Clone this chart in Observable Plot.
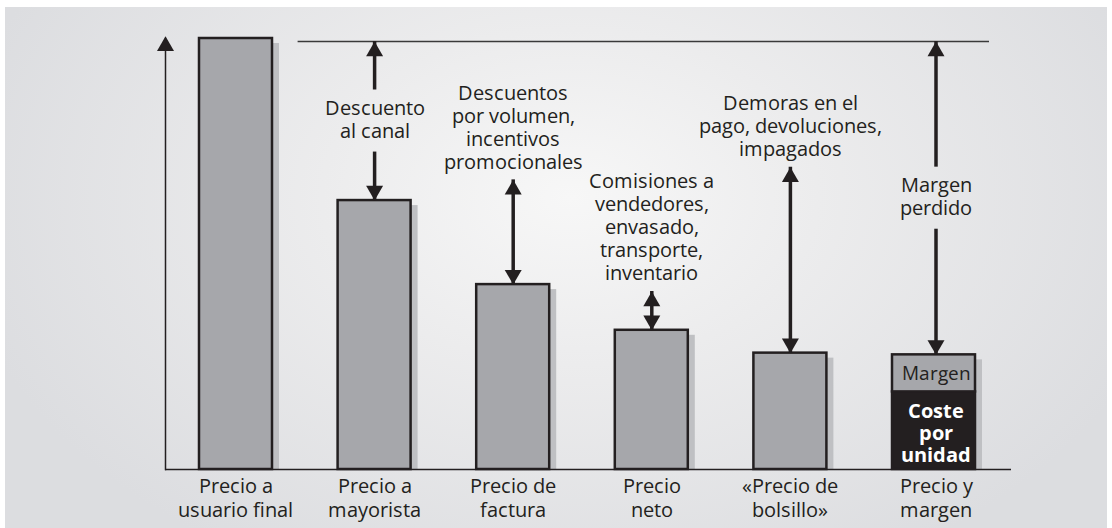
<!DOCTYPE html>
<html><head><meta charset="utf-8">
<script src="https://cdn.jsdelivr.net/npm/d3@7"></script>
<script src="https://cdn.jsdelivr.net/npm/@observablehq/plot@0.6"></script>
<style>
@font-face{font-family:"OpenSansTight";font-weight:400;
  src:local("Open Sans Regular"),local("OpenSans-Regular"),local("Open Sans");
  ascent-override:88%;descent-override:21%;line-gap-override:0%;}
@font-face{font-family:"OpenSansTight";font-weight:700;
  src:local("Open Sans Bold"),local("OpenSans-Bold");
  ascent-override:88%;descent-override:21%;line-gap-override:0%;}
html,body{margin:0;padding:0;background:#fff;}
#wrap{position:relative;width:1112px;height:528px;overflow:hidden;}
#panel{position:absolute;left:5px;top:7px;width:1102px;height:521px;
  background:radial-gradient(ellipse 620px 420px at 565px 190px,#f7f7f7 0%,#ececed 40%,#dcdde0 100%);}
#chart{position:absolute;left:0;top:0;}
</style></head><body>
<div id="wrap"><div id="panel"></div><div id="chart"></div></div>
<script>
// ---- data ----
const categorias = ["Precio a\nusuario final", "Precio a\nmayorista", "Precio de\nfactura", "Precio\nneto", "«Precio de\nbolsillo»", "Precio y\nmargen"];
const precios = [100, 62.4, 42.9, 32.3, 27.0, 26.6];
const costeUnidad = 18.0;
const lineaReferencia = 99.3;
const topeEje = 100.5;
const notas = ["Descuento\nal canal", "Descuentos\npor volumen,\nincentivos\npromocionales", "Comisiones a\nvendedores,\nenvasado,\ntransporte,\ninventario", "Demoras en el\npago, devoluciones,\nimpagados", "Margen\nperdido"];
const notaDesde = [99.3, 67.2, 41.3, 70.1, 99.3];
const notaPartida = [true, false, false, false, true];
const etiquetaMargen = "Margen";
const etiquetaCoste = "Coste\npor\nunidad";

// ---- derived tables ----
const barras = categorias.map((c, i) => ({cat: c, precio: precios[i]}));
const anot = notas.map((t, i) => ({cat: categorias[i + 1], texto: t, desde: notaDesde[i], hasta: precios[i + 1], partida: notaPartida[i]}));
const ultima = categorias[categorias.length - 1];

const INK = "#231f20";
const GRIS = "#a6a7ab";
const SOMBRA = "#bfc0c3";
const FONT = "OpenSansTight, 'Open Sans', sans-serif";
const FS = 20;
const HUECO = 7.2;
const R = 6.3, PUNTA = 9.8;
const DX6 = 7;

function segmentos(a) {
  if (!a.partida) return [{cat: a.cat, y1: a.desde, y2: a.hasta}];
  const m = (a.desde + a.hasta) / 2;
  return [{cat: a.cat, y1: a.desde, y2: m + HUECO}, {cat: a.cat, y1: m - HUECO, y2: a.hasta}];
}

function capaAnotaciones(datos, dx) {
  return [
    Plot.ruleX(datos.flatMap(segmentos), {x: "cat", y1: "y1", y2: "y2", stroke: INK, strokeWidth: 3.5, dx}),
    Plot.dot(datos, {x: "cat", y: "desde", symbol: "triangle", r: R, fill: INK, stroke: "none", dy: PUNTA, dx}),
    Plot.dot(datos, {x: "cat", y: "hasta", symbol: "triangle", r: R, fill: INK, stroke: "none", rotate: 180, dy: -PUNTA, dx}),
    Plot.text(datos.filter(d => d.partida), {x: "cat", y: d => (d.desde + d.hasta) / 2, text: "texto", lineAnchor: "middle", lineHeight: 1.15, fontSize: FS, fontFamily: FONT, fill: INK, dx, dy: -2}),
    Plot.text(datos.filter(d => !d.partida), {x: "cat", y: "desde", text: "texto", lineAnchor: "bottom", lineHeight: 1.15, fontSize: FS, fontFamily: FONT, fill: INK, dy: -11, dx})
  ];
}

function dibujar() {
  const chart = Plot.plot({
    width: 1112, height: 528,
    marginLeft: 165, marginRight: 113, marginTop: 38, marginBottom: 59,
    x: {type: "band", domain: categorias, paddingInner: 0.4733, paddingOuter: 0.2453, round: false, axis: null},
    y: {domain: [0, 100], axis: null},
    style: {background: "transparent", overflow: "visible", fontFamily: FONT, color: INK},
    marks: [
      // shadows
      Plot.barY(barras.slice(0, 5), {x: "cat", y: "precio", fill: SOMBRA, dx: 7, insetTop: 5}),
      Plot.barY(barras.slice(5), {x: "cat", y: "precio", fill: SOMBRA, dx: 7, insetTop: 5, insetRight: -10}),
      // bars
      Plot.barY(barras.slice(0, 5), {x: "cat", y: "precio", fill: GRIS, stroke: INK, strokeWidth: 2.5}),
      Plot.barY([{cat: ultima, y1: 0, y2: costeUnidad}], {x: "cat", y1: "y1", y2: "y2", fill: INK, stroke: INK, strokeWidth: 2.5, insetRight: -10}),
      Plot.barY([{cat: ultima, y1: costeUnidad, y2: precios[5]}], {x: "cat", y1: "y1", y2: "y2", fill: GRIS, stroke: INK, strokeWidth: 2.5, insetRight: -10}),
      Plot.text([etiquetaMargen], {x: () => ultima, y: () => (costeUnidad + precios[5]) / 2, text: d => d, lineAnchor: "middle", fontSize: 19.3, fontFamily: FONT, fill: INK, dx: DX6}),
      Plot.text([etiquetaCoste], {x: () => ultima, y: () => costeUnidad / 2, text: d => d, lineAnchor: "middle", lineHeight: 1.13, fontSize: 19.5, fontWeight: "bold", fontFamily: FONT, fill: "#ffffff", dx: DX6, dy: 2}),
      // axes
      Plot.ruleY([0], {stroke: INK, strokeWidth: 1.6, insetRight: -12}),
      Plot.frame({anchor: "left", stroke: INK, strokeWidth: 1.5}),
      Plot.dot([topeEje], {y: d => d, frameAnchor: "left", symbol: "triangle", r: R, fill: INK, stroke: "none", dy: PUNTA}),
      Plot.ruleY([lineaReferencia], {x1: () => categorias[1], x2: () => ultima, stroke: "#3a3a3a", strokeWidth: 1.4, insetLeft: -40, insetRight: -24}),
      // annotations
      ...capaAnotaciones(anot.filter(d => d.cat !== ultima), 0),
      ...capaAnotaciones(anot.filter(d => d.cat === ultima), DX6),
      // category labels
      Plot.text(categorias.slice(0, 5), {x: d => d, frameAnchor: "bottom", lineAnchor: "top", lineHeight: 1.2, dy: 6, fontSize: FS, fontFamily: FONT, fill: INK}),
      Plot.text(categorias.slice(5), {x: d => d, frameAnchor: "bottom", lineAnchor: "top", lineHeight: 1.2, dy: 6, dx: DX6, fontSize: FS, fontFamily: FONT, fill: INK})
    ]
  });
  document.getElementById("chart").append(chart);
}
dibujar();
</script>
</body></html>
